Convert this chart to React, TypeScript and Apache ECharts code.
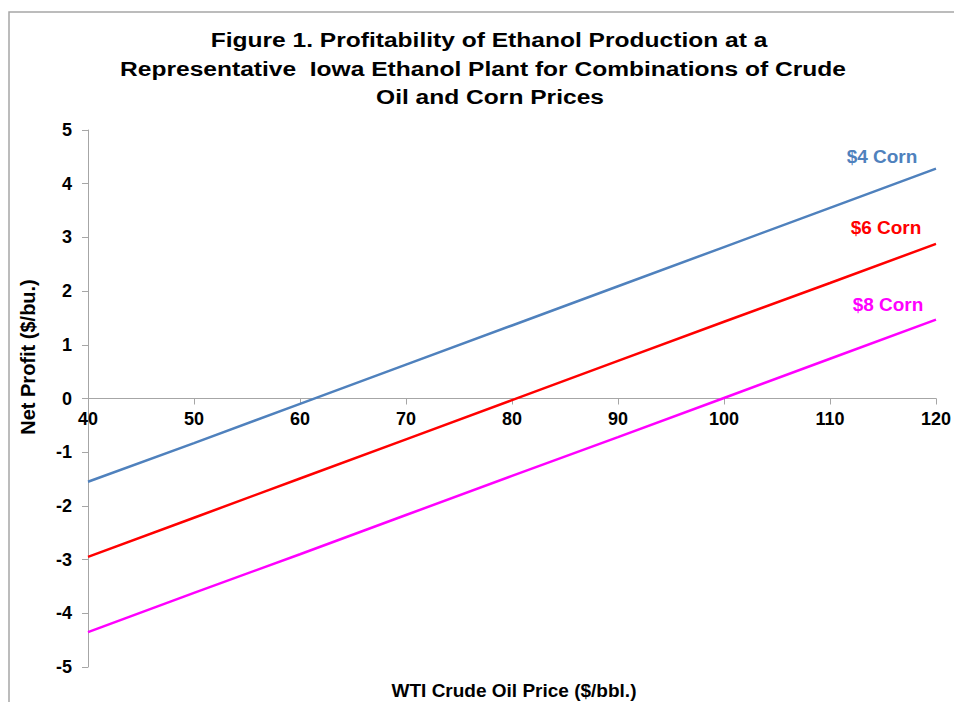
import React, { useEffect, useRef } from "react";
import * as echarts from "echarts";

const oilPrices = [40, 50, 60, 70, 80, 90, 100, 110, 120];
const corn4 = [-1.55, -0.83, -0.1, 0.63, 1.36, 2.09, 2.82, 3.55, 4.28];
const corn6 = [-2.95, -2.22, -1.49, -0.76, -0.03, 0.7, 1.43, 2.15, 2.88];
const corn8 = [-4.35, -3.62, -2.9, -2.17, -1.44, -0.72, 0.01, 0.74, 1.47];
const seriesNames = ["$4 Corn", "$6 Corn", "$8 Corn"];
const seriesColors = ["#4F81BD", "#FF0000", "#FF00FF"];
const titleLines = [
  "Figure 1. Profitability of Ethanol Production at a",
  "Representative  Iowa Ethanol Plant for Combinations of Crude",
  "Oil and Corn Prices",
];

const FONT = "'Liberation Sans', Arial, sans-serif";

export default function App() {
  const ref = useRef<HTMLDivElement>(null);
  useEffect(() => {
    if (!ref.current) return;
    const chart = echarts.init(ref.current, null, { renderer: "svg" });
    const all = [corn4, corn6, corn8];
    const gridTop = 130;
    const gridBottom = 35;
    const plotH = 702 - gridTop - gridBottom;
    chart.setOption({
      animation: false,
      backgroundColor: "#ffffff",
      grid: { left: 88, right: 17, top: gridTop, bottom: gridBottom },
      xAxis: {
        type: "value",
        min: 40,
        max: 120,
        interval: 10,
        offset: -plotH / 2,
        splitLine: { show: false },
        axisLine: { onZero: false, lineStyle: { color: "#A6A6A6", width: 1 } },
        axisTick: { show: true, length: 6, lineStyle: { color: "#A6A6A6" } },
        axisLabel: {
          fontFamily: FONT,
          fontSize: 18,
          fontWeight: "bold",
          color: "#000",
          margin: 11,
        },
      },
      yAxis: {
        type: "value",
        min: -5,
        max: 5,
        interval: 1,
        splitLine: { show: false },
        axisLine: { show: true, onZero: false, lineStyle: { color: "#A6A6A6", width: 1 } },
        axisTick: { show: true, length: 6, lineStyle: { color: "#A6A6A6" } },
        axisLabel: {
          fontFamily: FONT,
          fontSize: 18,
          fontWeight: "bold",
          color: "#000",
          margin: 16,
        },
      },
      series: all.map((vals, i) => ({
        name: seriesNames[i],
        type: "line",
        showSymbol: false,
        data: oilPrices.map((x, j) => [x, vals[j]]),
        lineStyle: { color: seriesColors[i], width: 2.5 },
        itemStyle: { color: seriesColors[i] },
      })),
      graphic: [
        {
          type: "rect",
          shape: { x: 9, y: 12, width: 1000, height: 800 },
          style: { fill: "none", stroke: "#A6A6A6", lineWidth: 1.5 },
          silent: true,
        },
        ...titleLines.map((t, i) => ({
          type: "text",
          x: [489, 483, 490][i],
          y: [40, 69, 97][i],
          scaleX: 1.17,
          style: {
            text: t,
            fontFamily: FONT,
            fontSize: 21,
            fontWeight: "bold",
            fill: "#000",
            align: "center",
            verticalAlign: "middle",
          },
        })),
        {
          type: "text",
          x: 28,
          y: 357,
          rotation: Math.PI / 2,
          style: {
            text: "Net Profit ($/bu.)",
            fontFamily: FONT,
            fontSize: 20,
            fontWeight: "bold",
            fill: "#000",
            align: "center",
            verticalAlign: "middle",
          },
        },
        {
          type: "text",
          x: 514,
          y: 690,
          style: {
            text: "WTI Crude Oil Price ($/bbl.)",
            fontFamily: FONT,
            fontSize: 19,
            fontWeight: "bold",
            fill: "#000",
            align: "center",
            verticalAlign: "middle",
          },
        },
        ...seriesNames.map((n, i) => ({
          type: "text",
          x: [882, 886, 888][i],
          y: [156, 227, 304][i],
          style: {
            text: n,
            fontFamily: FONT,
            fontSize: 19,
            fontWeight: "bold",
            fill: seriesColors[i],
            align: "center",
            verticalAlign: "middle",
          },
        })),
      ],
    });
    return () => chart.dispose();
  }, []);
  return (
    <div
      ref={ref}
      style={{ position: "fixed", left: 0, top: 0, width: 954, height: 702 }}
    />
  );
}
